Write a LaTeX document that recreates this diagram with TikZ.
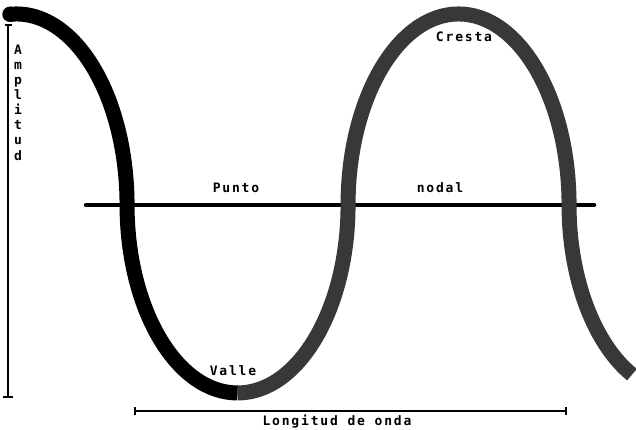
\documentclass[tikz,border=0pt]{standalone}
\usepackage{fontspec}
\newfontfamily\twfont[LetterSpace=14]{DejaVu Sans Mono}
\begin{document}
\begin{tikzpicture}[x=1pt,y=1pt,
  lbl/.style={font=\twfont\bfseries\fontsize{13}{15}\selectfont, inner sep=0pt, anchor=base},
  band/.style={line width=15pt},
  speck/.style={band, black!78},
  bar/.style={line width=1.6pt},
  tick/.style={line width=2pt}]
\useasboundingbox (0,0) rectangle (636,429);
% node (axis) line
\coordinate (axL) at (86,224);
\coordinate (axR) at (594,224);
\draw[line width=4.5pt, line cap=round] (axL) -- (axR);
% wave
\coordinate (w0) at (10,414.7);
\fill (w0) circle (7.7pt);
\draw[band] (w0) arc[start angle=93.4, end angle=0, x radius=110.5pt, y radius=191pt]
  arc[start angle=180, end angle=270, x radius=110.5pt, y radius=188pt] coordinate (wT);
\draw[speck] (wT) arc[start angle=270, end angle=360, x radius=110.5pt, y radius=188pt]
  arc[start angle=180, end angle=0, x radius=110.5pt, y radius=191pt]
  arc[start angle=180, end angle=244.5, x radius=110.5pt, y radius=188pt];
% amplitude bar
\coordinate (aT) at (8,404);
\coordinate (aB) at (8,32);
\draw[bar] (aT) -- (aB);
\draw[tick] ([xshift=-3pt]aT) -- ([xshift=4pt]aT);
\draw[tick] ([xshift=-5pt]aB) -- ([xshift=5pt]aB);
% wavelength bar
\coordinate (lL) at (135,18);
\coordinate (lR) at (566,18);
\draw[bar] (lL) -- (lR);
\draw[tick] ([yshift=-4pt]lL) -- ([yshift=4pt]lL);
\draw[tick] ([yshift=-4pt]lR) -- ([yshift=4pt]lR);
% labels
\node[lbl] (punto) at (236,237) {Punto};
\node[lbl] (nodal) at (440,237) {nodal};
\node[lbl] (cresta) at (464,387) {Cresta};
\node[lbl] (valle) at (233,54) {Valle};
\node[lbl] (longitud) at (337,4) {Longitud de onda};
\foreach \ch [count=\i from 0] in {A,m,p,l,i,t,u,d}
  \node[lbl] (amp\i) at (18,374-15*\i) {\ch};
\end{tikzpicture}
\end{document}
